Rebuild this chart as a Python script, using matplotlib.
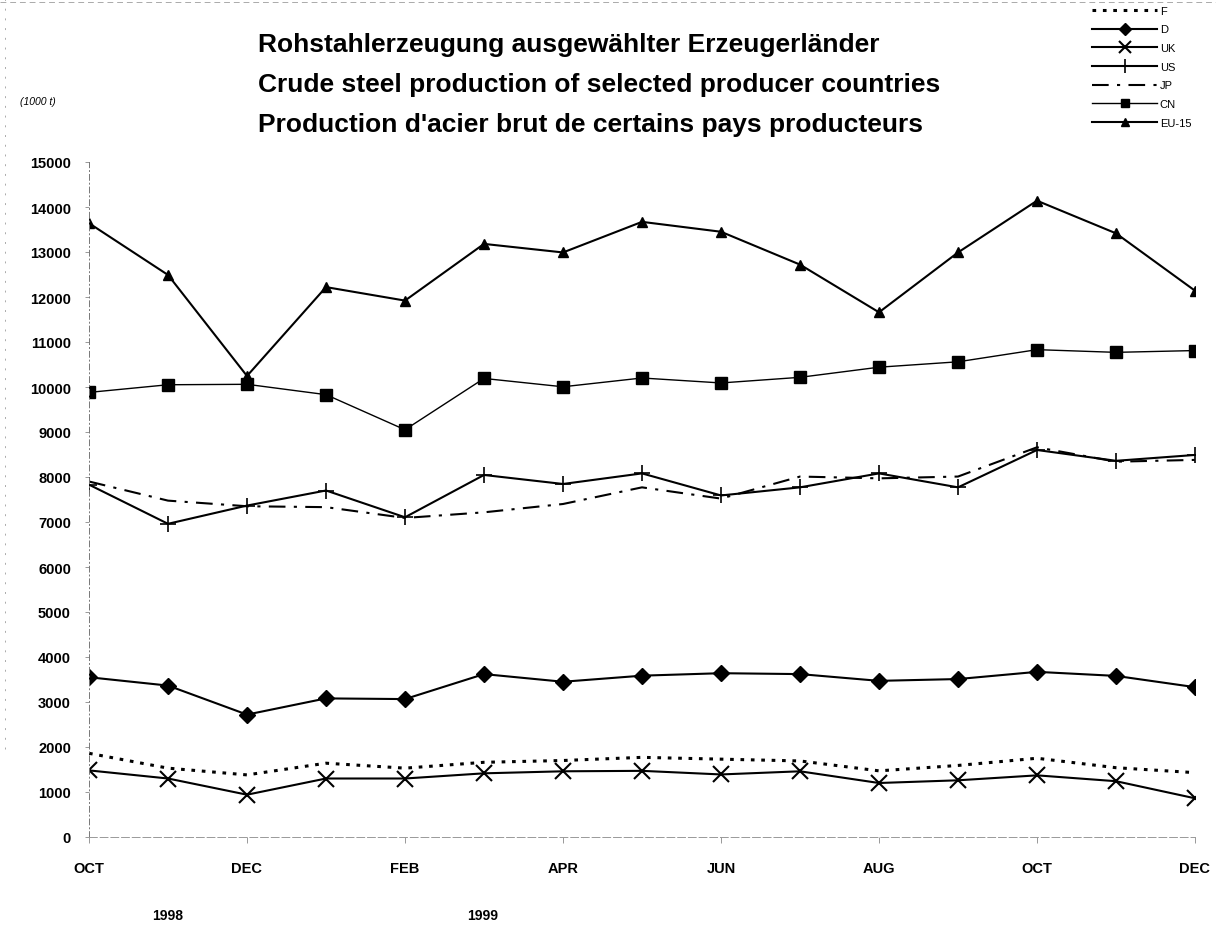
import matplotlib.pyplot as plt
import numpy as np

months = ['OCT', 'NOV', 'DEC', 'JAN', 'FEB', 'MAR', 'APR', 'MAY',
          'JUN', 'JUL', 'AUG', 'SEP', 'OCT', 'NOV', 'DEC']

F = [1860, 1530, 1380, 1640, 1530, 1660, 1700, 1770, 1730, 1690, 1470, 1590, 1750, 1540, 1430]
D = [3550, 3365, 2720, 3080, 3065, 3620, 3450, 3585, 3640, 3620, 3470, 3510, 3670, 3580, 3330]
UK = [1480, 1300, 940, 1300, 1300, 1415, 1460, 1470, 1390, 1460, 1200, 1260, 1370, 1240, 860]
US = [7830, 6960, 7365, 7700, 7105, 8045, 7845, 8080, 7590, 7770, 8080, 7770, 8600, 8360, 8490]
JP = [7900, 7475, 7350, 7330, 7090, 7215, 7400, 7770, 7520, 8010, 7970, 8010, 8660, 8340, 8380]
CN = [9880, 10050, 10060, 9830, 9050, 10190, 10005, 10200, 10090, 10215, 10440, 10560, 10830, 10770, 10810]
EU15 = [13640, 12490, 10245, 12220, 11920, 13180, 12990, 13670, 13450, 12720, 11660, 12990, 14140, 13415, 12140]

title_lines = ['Rohstahlerzeugung ausgewählter Erzeugerländer',
               'Crude steel production of selected producer countries',
               "Production d'acier brut de certains pays producteurs"]

plt.rcParams['font.family'] = ['Liberation Sans', 'DejaVu Sans']

fig = plt.figure(figsize=(12.16, 9.37), dpi=100)
ax = fig.add_axes([89 / 1216, 1 - 838 / 937, (1195 - 89) / 1216, (838 - 163) / 937])

x = np.arange(len(months))
ax.plot(x, F, color='black', linestyle=(0, (1.2, 2.2)), linewidth=2.2, label='F')
ax.plot(x, D, color='black', linewidth=1.5, marker='D', markersize=8, label='D')
ax.plot(x, UK, color='black', linewidth=1.5, marker='x', markersize=11,
        markeredgewidth=1.5, label='UK')
ax.plot(x, US, color='black', linewidth=1.5, marker='+', markersize=12,
        markeredgewidth=1.2, label='US')
ax.plot(x, JP, color='black', linestyle=(0, (8, 4, 1.5, 4)), linewidth=1.5, label='JP')
ax.plot(x, CN, color='black', linewidth=1.0, marker='s', markersize=8, label='CN')
ax.plot(x, EU15, color='black', linewidth=1.5, marker='^', markersize=7.5, label='EU-15')

ax.set_xlim(0, len(months) - 1)
ax.set_ylim(0, 15000)
ax.set_yticks(np.arange(0, 15001, 1000))
ax.set_yticklabels([str(v) for v in range(0, 15001, 1000)], fontsize=10.5,
                   fontweight='bold')
ax.set_xticks(x[::2])
ax.set_xticklabels(months[::2], fontsize=10.5, fontweight='bold')
ax.tick_params(axis='y', length=3, width=0.6, color='#888888', pad=10)
ax.tick_params(axis='x', length=4, width=0.6, color='#888888', pad=13)

for side in ['top', 'right']:
    ax.spines[side].set_visible(False)
ax.spines['left'].set_linestyle((0, (6, 3, 1, 3)))
ax.spines['left'].set_color('#777777')
ax.spines['left'].set_linewidth(0.7)
ax.spines['bottom'].set_linestyle((0, (8, 3)))
ax.spines['bottom'].set_color('#999999')
ax.spines['bottom'].set_linewidth(0.7)

# year labels under the month axis
fig.text(168 / 1216, 1 - 916 / 937, '1998', fontsize=10, fontweight='bold',
         ha='center', va='center')
fig.text(483 / 1216, 1 - 916 / 937, '1999', fontsize=10, fontweight='bold',
         ha='center', va='center')

fig.text(20 / 1216, 1 - 102 / 937, '(1000 t)', fontsize=7.5, style='italic', va='center')

for i, line in enumerate(title_lines):
    fig.text(258 / 1216, 1 - (45 + 40 * i) / 937, line, fontsize=19,
             fontweight='bold', ha='left', va='center')

leg = fig.legend(loc='upper right', bbox_to_anchor=(1199 / 1216, 1 + 1 / 937),
                 frameon=False, fontsize=8, handlelength=5.8, handletextpad=0.25,
                 labelspacing=0.78, borderpad=0.2, markerscale=0.8)

# faint scan border
fig.add_artist(plt.Line2D([0, 1], [1 - 3 / 937, 1 - 3 / 937], color='#aaaaaa',
                          linewidth=0.7, linestyle=(0, (6, 4)),
                          transform=fig.transFigure))
fig.add_artist(plt.Line2D([5 / 1216, 5 / 1216], [0.2, 1], color='#aaaaaa',
                          linewidth=0.7, linestyle=(0, (2, 8)),
                          transform=fig.transFigure))

fig.savefig('out.png', dpi=100)
